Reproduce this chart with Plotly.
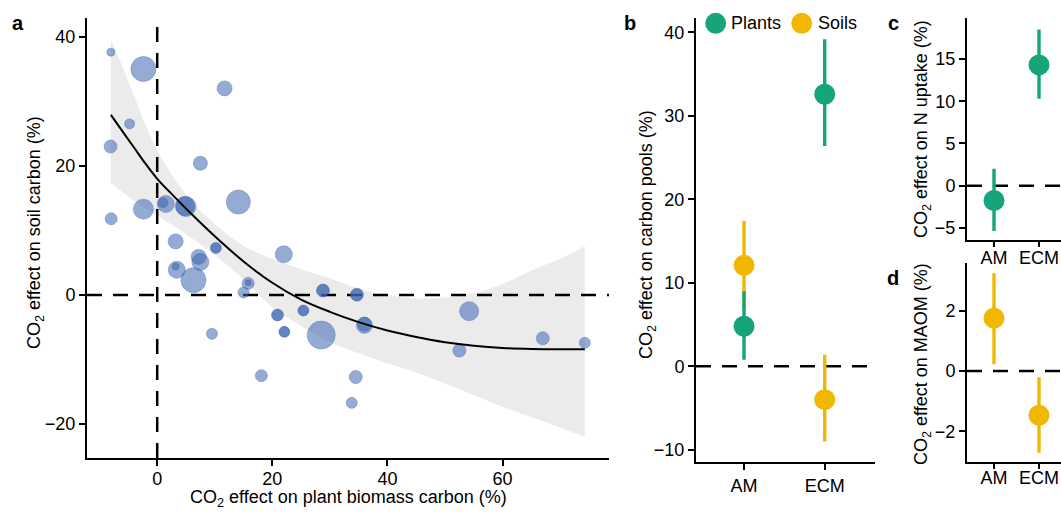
import plotly.graph_objects as go

W, H = 1061, 515

# ---------------- Panel a data ----------------
biomass_effect = [-8.05, -2.4, 11.7, -4.8, -8.1, 7.5, 14.1, -2.4, 1.0, 1.5, 5.0, 4.8, -8.0, 3.2,
                  10.2, 10.2, 22.0, 7.2, 7.5, 3.4, 3.2, 6.3, 15.8, 15.8, 15.0, 28.8, 28.8,
                  20.9, 20.9, 25.4, 25.4, 22.1, 22.1, 28.5, 9.5, 18.1, 34.7, 34.7, 36.0, 36.0,
                  54.2, 67.0, 74.3, 52.5, 34.5, 33.8]
soil_effect = [37.6, 35.0, 32.0, 26.5, 23.0, 20.4, 14.4, 13.3, 14.3, 14.1, 13.7, 13.8, 11.8, 8.3,
               7.3, 7.3, 6.3, 5.9, 5.1, 3.9, 4.4, 2.3, 1.8, 1.9, 0.4, 0.7, 0.7,
               -3.1, -3.1, -2.4, -2.4, -5.7, -5.7, -6.2, -6.0, -12.5, 0.05, 0.05, -4.7, -4.5,
               -2.5, -6.7, -7.4, -8.6, -12.7, -16.7]
study_weight = [8, 25, 15, 10, 13, 14, 24, 20, 10, 17, 20, 19, 12, 15,
                11, 10, 17, 15, 17, 17, 7, 25, 12, 6, 11, 13, 12,
                12, 11, 11, 10, 11, 10, 28, 11, 12, 13, 12, 16, 14,
                19, 13, 11, 13, 13, 11]

fit_x = [-8.05, -6, -4, -2, 0, 3, 6, 10, 15, 20, 25, 30, 35, 40, 45, 50, 55, 60, 65, 70, 74.3]
fit_y = [27.9, 25.3, 22.8, 20.3, 18.0, 15.2, 12.5, 9.1, 5.2, 1.9, -0.7, -2.6, -4.2, -5.5,
         -6.5, -7.3, -7.85, -8.2, -8.35, -8.4, -8.4]
ci_upper = [39.5, 35.3, 30.8, 26.3, 22.4, 18.0, 14.5, 11.0, 7.6, 5.6, 4.0, 2.6, 1.0, 0.0,
            -0.5, -0.4, 0.3, 1.7, 3.8, 5.6, 7.6]
ci_lower = [17.3, 15.9, 14.6, 13.4, 12.3, 10.6, 8.8, 6.2, 2.4, -1.9, -4.8, -7.3, -9.0, -10.6,
            -12.0, -13.7, -15.5, -17.3, -18.9, -20.5, -22.0]

# ---------------- Panels b-d data ----------------
groups = ["AM", "ECM"]
plants_mean = [4.8, 32.6]
plants_lo = [0.8, 26.4]
plants_hi = [9.0, 39.2]
soils_mean = [12.1, -4.0]
soils_lo = [6.8, -9.0]
soils_hi = [17.4, 1.4]
nup_mean = [-1.75, 14.3]
nup_lo = [-5.35, 10.3]
nup_hi = [2.0, 18.5]
maom_mean = [1.75, -1.47]
maom_lo = [0.22, -2.71]
maom_hi = [3.24, -0.21]

GREEN = "#16A47A"
YELLOW = "#F2B701"
PT = "rgba(62,102,178,0.78)"
FONT = "Liberation Sans, Arial, Helvetica, sans-serif"

def px_x(p):
    return p / W

def px_y(p):
    return 1 - p / H

fig = go.Figure()

# band
fig.add_trace(go.Scatter(x=fit_x, y=ci_lower, mode="lines", line=dict(width=0, shape="spline"),
                         hoverinfo="skip", showlegend=False, xaxis="x", yaxis="y"))
fig.add_trace(go.Scatter(x=fit_x, y=ci_upper, mode="lines", line=dict(width=0, shape="spline"),
                         fill="tonexty", fillcolor="rgba(0,0,0,0.08)",
                         hoverinfo="skip", showlegend=False, xaxis="x", yaxis="y"))
# points
fig.add_trace(go.Scatter(x=biomass_effect, y=soil_effect, mode="markers",
                         marker=dict(size=study_weight, color=PT,
                                     line=dict(width=1, color="rgba(45,85,165,0.55)")),
                         showlegend=False, xaxis="x", yaxis="y"))
# fit
fig.add_trace(go.Scatter(x=fit_x, y=fit_y, mode="lines", line=dict(color="black", width=2, shape="spline"),
                         showlegend=False, xaxis="x", yaxis="y"))

def cat_trace(mean, lo, hi, color, xa, ya):
    return go.Scatter(
        x=groups, y=mean, mode="markers",
        marker=dict(size=21, color=color),
        error_y=dict(type="data", symmetric=False,
                     array=[h - m for h, m in zip(hi, mean)],
                     arrayminus=[m - l for m, l in zip(mean, lo)],
                     color=color, thickness=3.4, width=0),
        showlegend=False, xaxis=xa, yaxis=ya)

fig.add_trace(cat_trace(soils_mean, soils_lo, soils_hi, YELLOW, "x2", "y2"))
fig.add_trace(cat_trace(plants_mean, plants_lo, plants_hi, GREEN, "x2", "y2"))
fig.add_trace(cat_trace(nup_mean, nup_lo, nup_hi, GREEN, "x3", "y3"))
fig.add_trace(cat_trace(maom_mean, maom_lo, maom_hi, YELLOW, "x4", "y4"))

tickfont = dict(family=FONT, size=18, color="black")
common = dict(showline=True, linewidth=2, linecolor="black", showgrid=False, zeroline=False,
              ticks="outside", tickwidth=2, tickcolor="black", tickfont=tickfont,
              mirror=False)

fig.update_layout(
    width=W, height=H, autosize=False,
    margin=dict(l=0, r=0, t=0, b=0),
    paper_bgcolor="white", plot_bgcolor="white",
    font=dict(family=FONT, size=18, color="black"),
    xaxis=dict(domain=[px_x(87), px_x(609)], range=[-12.2, 78.5], tickvals=[0, 20, 40, 60],
               anchor="y", ticklen=6, ticklabelstandoff=-3, **common),
    yaxis=dict(domain=[px_y(458), px_y(18)], range=[-25.24, 42.9], tickvals=[-20, 0, 20, 40],
               anchor="x", ticklen=6, **common),
    xaxis2=dict(domain=[px_x(696), px_x(875)], range=[-0.595, 1.623], type="category",
                anchor="y2", ticklen=6, ticklabelstandoff=1, **common),
    yaxis2=dict(domain=[px_y(461.7), px_y(18.3)], range=[-11.43, 41.7],
                tickvals=[-10, 0, 10, 20, 30, 40], anchor="x2", ticklen=6, **common),
    xaxis3=dict(domain=[px_x(967), 1.0], range=[-0.6, 1.489], type="category",
                anchor="y3", ticklen=5, ticklabelstandoff=-5, **common),
    yaxis3=dict(domain=[px_y(240), px_y(18.3)], range=[-6.43, 19.82],
                tickvals=[-5, 0, 5, 10, 15], anchor="x3", ticklen=6, **common),
    xaxis4=dict(domain=[px_x(967), 1.0], range=[-0.6, 1.489], type="category",
                anchor="y4", ticklen=5, ticklabelstandoff=-6, **common),
    yaxis4=dict(domain=[px_y(461.7), px_y(263.3)], range=[-3.01, 3.57],
                tickvals=[-2, 0, 2], anchor="x4", ticklen=6, **common),
)

dash = dict(color="black", width=2.5, dash="15px,11px")
shapes = [
    dict(type="line", xref="x", yref="y domain", x0=0, x1=0, y0=0, y1=1, line=dash, layer="below"),
    dict(type="line", xref="x domain", yref="y", x0=0, x1=1, y0=0, y1=0, line=dash, layer="below"),
    dict(type="line", xref="x2 domain", yref="y2", x0=0, x1=1, y0=0, y1=0, line=dash, layer="below"),
    dict(type="line", xref="x3 domain", yref="y3", x0=0, x1=1, y0=0, y1=0, line=dash, layer="below"),
    dict(type="line", xref="x4 domain", yref="y4", x0=0, x1=1, y0=0, y1=0, line=dash, layer="below"),
]
# legend symbols (panel b)
for cx, col in [(715.7, GREEN), (801.7, YELLOW)]:
    shapes.append(dict(type="circle", xref="paper", yref="paper", xsizemode="pixel", ysizemode="pixel",
                       xanchor=px_x(cx), yanchor=px_y(23.3), x0=-10.5, x1=10.5, y0=-10.5, y1=10.5,
                       fillcolor=col, line=dict(width=0)))
fig.update_layout(shapes=shapes)

ann = []
def txt(text, x, y, size=18, angle=0, xanchor="center", yanchor="middle"):
    ann.append(dict(text=text, x=px_x(x), y=px_y(y), xref="paper", yref="paper", showarrow=False,
                    textangle=angle, xanchor=xanchor, yanchor=yanchor,
                    font=dict(family=FONT, size=size, color="black")))

txt("<b>a</b>", 18, 23, size=20)
txt("<b>b</b>", 630, 23, size=20)
txt("<b>c</b>", 893, 23, size=20)
txt("<b>d</b>", 893, 278, size=20)
txt("CO<sub>2</sub> effect on soil carbon (%)", 35, 233, angle=-90)
txt("CO<sub>2</sub> effect on plant biomass carbon (%)", 348, 498)
txt("CO<sub>2</sub> effect on carbon pools (%)", 647, 235, angle=-90)
txt("CO<sub>2</sub> effect on N uptake (%)", 922, 129, angle=-90)
txt("CO<sub>2</sub> effect on MAOM (%)", 922, 364, angle=-90)
txt("Plants", 729, 23.5, xanchor="left")
txt("Soils", 816, 23.5, xanchor="left")
fig.update_layout(annotations=ann)

fig.write_html("out.html", config={"displayModeBar": False, "staticPlot": True},
               post_script="document.body.style.margin='0';document.body.style.overflow='hidden';")
